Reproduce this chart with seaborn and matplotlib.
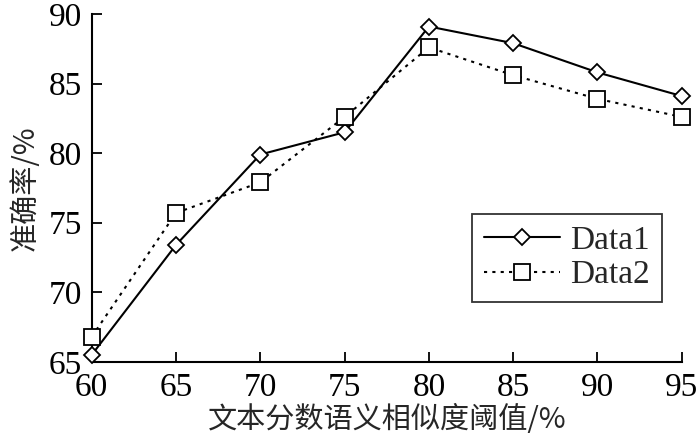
import numpy as np
import pandas as pd
import matplotlib
matplotlib.use("Agg")
import matplotlib.pyplot as plt
import seaborn as sns

# values
thresholds = [60, 65, 70, 75, 80, 85, 90, 95]
data1 = [65.5, 73.4, 79.9, 81.5, 89.1, 87.9, 85.8, 84.1]
data2 = [66.8, 75.7, 77.9, 82.6, 87.6, 85.6, 83.9, 82.6]
series_names = ["Data1", "Data2"]
x_label = "文本分数语义相似度阈值/%"
y_label = "准确率/%"

df = pd.DataFrame({
    "threshold": thresholds * 2,
    "acc": data1 + data2,
    "series": [series_names[0]] * len(thresholds) + [series_names[1]] * len(thresholds),
})

sns.set_style("ticks")
plt.rcParams["font.family"] = ["Liberation Serif", "Noto Sans CJK SC", "DejaVu Sans"]

fig, ax = plt.subplots(figsize=(7, 4.37), dpi=100)
sns.lineplot(data=df, x="threshold", y="acc", hue="series", style="series",
             markers={"Data1": "D", "Data2": "s"},
             dashes={"Data1": "", "Data2": (1.5, 2.5)},
             palette={"Data1": "black", "Data2": "black"},
             markerfacecolor="white", markeredgecolor="black",
             markeredgewidth=1.3, linewidth=1.5, ax=ax)

# diamond a little smaller than the square, markers not clipped at the axes
for line, ms in zip(ax.lines[:2], [8, 11]):
    line.set_markersize(ms)
    line.set_clip_on(False)
    line.set_zorder(5)

ax.set_xlim(60, 95)
ax.set_ylim(65, 90)
ax.set_xticks(range(60, 96, 5))
ax.set_yticks(range(65, 91, 5))
ax.tick_params(direction="in", length=7, width=1.3, labelsize=24, colors="black")
ax.tick_params(axis="x", pad=8)
ax.tick_params(axis="y", pad=7)
for s in ["left", "bottom"]:
    ax.spines[s].set_linewidth(1.5)
    ax.spines[s].set_color("black")
sns.despine(ax=ax)

cjk = ["Noto Sans CJK SC", "Liberation Serif", "DejaVu Sans"]
ax.set_xlabel(x_label, fontsize=21, family=cjk, labelpad=1)
ax.set_ylabel(y_label, fontsize=21, family=cjk, labelpad=6)

handles, labels = ax.get_legend_handles_labels()
for h, ms in zip(handles, [8, 11]):
    h.set_markersize(ms)
    h.set_markerfacecolor("white")
    h.set_markeredgecolor("black")
leg = ax.legend(handles, labels, loc="lower right", bbox_to_anchor=(0.966, 0.172),
                borderaxespad=0, fontsize=24, frameon=True, fancybox=False,
                edgecolor="black", handlelength=2.3, handletextpad=0.3,
                borderpad=0.35, labelspacing=0.12)
leg.get_frame().set_linewidth(1.3)

fig.subplots_adjust(left=0.131, right=0.974, bottom=0.172, top=0.968)
fig.savefig("out.png", dpi=100)
